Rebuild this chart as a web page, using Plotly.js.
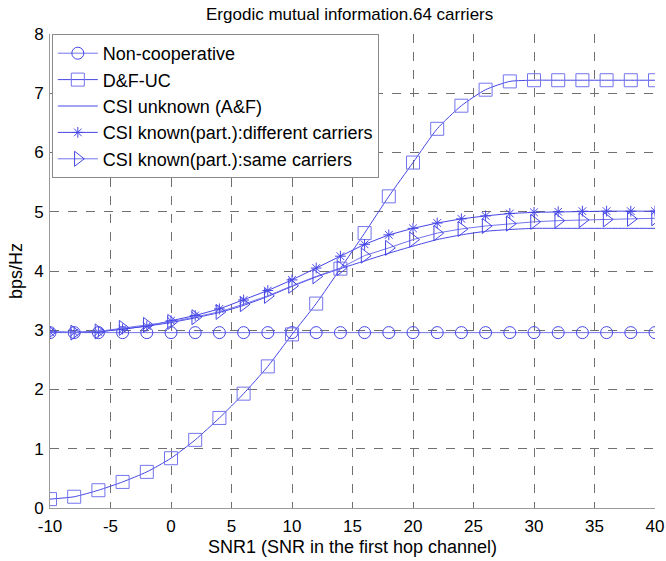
<!DOCTYPE html>
<html>
<head>
<meta charset="utf-8">
<script src="https://cdn.plot.ly/plotly-3.0.1.min.js"></script>
<style>html,body{margin:0;padding:0;background:#fff;}#chart{width:666px;height:561px;}</style>
</head>
<body>
<div id="chart"></div>
<script>
const snr = [-10,-8,-6,-4,-2,0,2,4,6,8,10,12,14,16,18,20,22,24,26,28,30,32,34,36,38,40];
const nonCoop = [2.96,2.96,2.96,2.96,2.96,2.96,2.96,2.96,2.96,2.96,2.96,2.96,2.96,2.96,2.96,2.96,2.96,2.96,2.96,2.96,2.96,2.96,2.96,2.96,2.96,2.96];
const dfuc = [0.15,0.19,0.30,0.44,0.61,0.84,1.15,1.52,1.93,2.39,2.93,3.45,4.04,4.64,5.26,5.83,6.40,6.79,7.06,7.20,7.22,7.22,7.22,7.22,7.22,7.22];
const csiUnknown = [2.97,2.97,2.98,3.02,3.07,3.13,3.21,3.30,3.42,3.57,3.74,3.90,4.04,4.17,4.30,4.42,4.53,4.61,4.67,4.70,4.72,4.72,4.72,4.72,4.72,4.72];
const csiDiff = [2.97,2.96,2.97,3.02,3.07,3.16,3.25,3.36,3.51,3.67,3.85,4.05,4.25,4.45,4.61,4.72,4.81,4.88,4.93,4.97,4.99,5.00,5.01,5.01,5.01,5.01];
const csiSame = [2.97,2.96,2.98,3.04,3.09,3.14,3.22,3.31,3.44,3.58,3.75,3.91,4.05,4.26,4.39,4.53,4.64,4.71,4.76,4.80,4.83,4.85,4.86,4.87,4.88,4.89];
const seriesNames = ["Non-cooperative","D&F-UC","CSI unknown (A&F)","CSI known(part.):different carriers","CSI known(part.):same carriers"];
const xTicks = [-10,-5,0,5,10,15,20,25,30,35,40];
const yTicks = [0,1,2,3,4,5,6,7,8];

const blue = '#4646e6';
const lightBlue = '#7474ee';

const traces = [
  {x: snr, y: nonCoop, name: seriesNames[0], mode: 'lines+markers',
   line: {color: lightBlue, width: 1},
   marker: {symbol: 'circle-open', size: 12, color: blue, line: {width: 1}}},
  {x: snr, y: dfuc, name: seriesNames[1], mode: 'lines+markers',
   line: {color: blue, width: 1, shape: 'spline', smoothing: 0.6},
   marker: {symbol: 'square-open', size: 13, color: lightBlue, line: {width: 1}}},
  {x: snr, y: csiUnknown, name: seriesNames[2], mode: 'lines',
   line: {color: blue, width: 1, shape: 'spline', smoothing: 0.6}},
  {x: snr, y: csiDiff, name: seriesNames[3], mode: 'lines+markers',
   line: {color: blue, width: 1},
   marker: {symbol: 'asterisk-open', size: 9, color: blue, line: {width: 1, color: blue}}},
  {x: snr, y: csiSame, name: seriesNames[4], mode: 'lines+markers',
   line: {color: lightBlue, width: 1},
   marker: {symbol: 'triangle-right-open', size: 13, color: blue, line: {width: 1}}}
];

const layout = {
  width: 666, height: 561,
  margin: {l: 50, r: 11, t: 34, b: 53},
  paper_bgcolor: '#fff', plot_bgcolor: '#fff',
  font: {family: '"Liberation Sans", Arial, sans-serif', color: '#000'},
  title: {text: 'Ergodic mutual information.64 carriers', font: {size: 17, color: '#000'},
          x: 0.525, xanchor: 'center', y: 0.975, yanchor: 'middle'},
  xaxis: {
    range: [-10, 40], tickvals: xTicks, ticktext: xTicks.map(String),
    showgrid: true, gridcolor: '#707070', griddash: 'dash', gridwidth: 1,
    showline: true, linecolor: '#9a9a9a', linewidth: 1, zeroline: false,
    ticks: '', tickfont: {size: 17}, ticklabelstandoff: 3,
    title: {text: 'SNR1 (SNR in the first hop channel)', font: {size: 18}, standoff: 4}
  },
  yaxis: {
    range: [0, 8], tickvals: yTicks, ticktext: yTicks.map(String),
    showgrid: true, gridcolor: '#707070', griddash: 'dash', gridwidth: 1,
    showline: true, linecolor: '#9a9a9a', linewidth: 1, zeroline: false,
    ticks: '', tickfont: {size: 17}, ticklabelstandoff: 2,
    title: {text: 'bps/Hz', font: {size: 18}, standoff: 6}
  },
  legend: {
    x: 0.003, y: 1, xanchor: 'left', yanchor: 'top',
    bgcolor: '#fff', bordercolor: '#8a8a8a', borderwidth: 1,
    font: {size: 18, color: '#000'}, tracegroupgap: 0, itemwidth: 40
  },
  showlegend: true
};

Plotly.newPlot('chart', traces, layout, {displayModeBar: false, staticPlot: true});
</script>
</body>
</html>
